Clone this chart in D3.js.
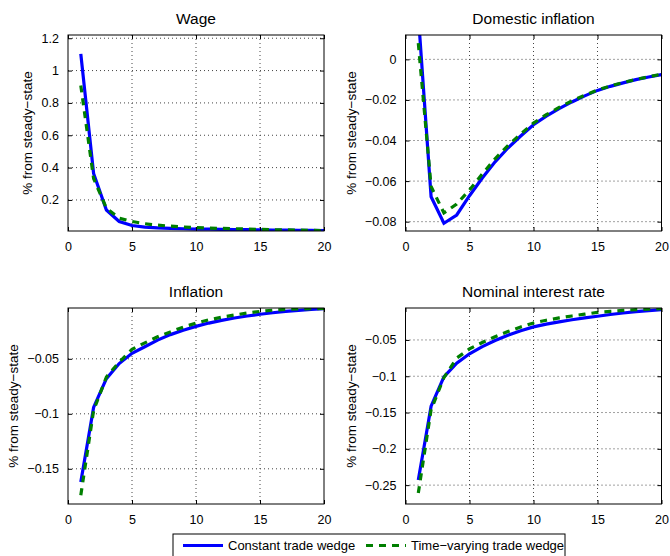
<!DOCTYPE html>
<html lang="en">
<head>
    <meta charset="UTF-8">
    <title>Impulse responses: constant vs time-varying trade wedge</title>
    <script src="https://d3js.org/d3.v7.min.js"></script>
    <style>
        body { margin: 0; background: #fff; }
        svg text { font-family: "Liberation Sans", Arial, Helvetica, sans-serif; fill: #000; font-weight: normal; }
        .grid line { stroke: #444; stroke-width: 1; stroke-dasharray: 1,3; }
        .tick text { font-size: 12.5px; }
        .title { font-size: 15.5px; text-anchor: middle; }
        .ylabel { font-size: 13.5px; text-anchor: middle; }
        .legend text { font-size: 13px; }
    </style>
</head>
<body>
    <svg id="chart" width="670" height="556"></svg>

    <script>
        // periods 1..20
        const periods = d3.range(1, 21);
        const xTicks = [0, 5, 10, 15, 20];

        const seriesNames = ["Constant trade wedge", "Time\u2212varying trade wedge"];

        const wageConst = [1.103, 0.364, 0.138, 0.067, 0.042, 0.032, 0.027, 0.024, 0.022, 0.020,
                           0.019, 0.018, 0.017, 0.016, 0.015, 0.014, 0.013, 0.012, 0.0115, 0.011];
        const wageVary  = [0.908, 0.333, 0.149, 0.087, 0.067, 0.053, 0.044, 0.038, 0.033, 0.029,
                           0.026, 0.024, 0.022, 0.020, 0.018, 0.016, 0.015, 0.013, 0.012, 0.011];

        const domConst = [0.022, -0.0677, -0.0808, -0.0767, -0.0672, -0.0585, -0.0505, -0.0437, -0.0378, -0.0322,
                          -0.0280, -0.0243, -0.0210, -0.0180, -0.0153, -0.0133, -0.0116, -0.0100, -0.0087, -0.0075];
        const domVary  = [0.008, -0.0627, -0.0757, -0.0713, -0.0644, -0.0565, -0.0490, -0.0425, -0.0368, -0.0314,
                          -0.0273, -0.0237, -0.0205, -0.0177, -0.0151, -0.0131, -0.0114, -0.0099, -0.0086, -0.0073];

        const inflConst = [-0.162, -0.0942, -0.068, -0.0543, -0.045, -0.039, -0.033, -0.028, -0.024, -0.0205,
                           -0.0175, -0.015, -0.0129, -0.0111, -0.0095, -0.0081, -0.0069, -0.0059, -0.0051, -0.0045];
        const inflVary  = [-0.174, -0.097, -0.0665, -0.053, -0.0414, -0.0355, -0.030, -0.0255, -0.0212, -0.0175,
                           -0.0146, -0.0122, -0.0102, -0.0084, -0.0069, -0.0058, -0.0051, -0.0047, -0.0044, -0.0042];

        const rateConst = [-0.243, -0.1413, -0.101, -0.082, -0.069, -0.0592, -0.0508, -0.0436, -0.0374, -0.032,
                           -0.0283, -0.0251, -0.0222, -0.0196, -0.0174, -0.0150, -0.0129, -0.0111, -0.0096, -0.0083];
        const rateVary  = [-0.261, -0.146, -0.102, -0.075, -0.0624, -0.0535, -0.0455, -0.0385, -0.0322, -0.0266,
                           -0.0229, -0.0197, -0.0170, -0.0145, -0.0120, -0.0106, -0.0094, -0.0083, -0.0076, -0.0070];

        const panels = [
            { title: "Wage", a: wageConst, b: wageVary, yDomain: [0.008, 1.22],
              yTicks: [0.2, 0.4, 0.6, 0.8, 1, 1.2], left: 68, top: 35 },
            { title: "Domestic inflation", a: domConst, b: domVary, yDomain: [-0.0846, 0.012],
              yTicks: [-0.08, -0.06, -0.04, -0.02, 0], left: 405.5, top: 35 },
            { title: "Inflation", a: inflConst, b: inflVary, yDomain: [-0.182, -0.0038],
              yTicks: [-0.15, -0.1, -0.05], left: 68, top: 308 },
            { title: "Nominal interest rate", a: rateConst, b: rateVary, yDomain: [-0.276, -0.006],
              yTicks: [-0.25, -0.2, -0.15, -0.1, -0.05], left: 405.5, top: 308 }
        ];

        const W = 256, H = 196;
        const BLUE = "#0000ff", GREEN = "#007f00";
        const fmt = d3.format("~g");

        const svg = d3.select("#chart");

        panels.forEach((p, i) => {
            const g = svg.append("g").attr("transform", `translate(${p.left},${p.top})`);
            const x = d3.scaleLinear().domain([0, 20]).range([0, W]);
            const y = d3.scaleLinear().domain(p.yDomain).range([H, 0]);

            // dotted grid
            const grid = g.append("g").attr("class", "grid");
            grid.selectAll(".gx").data(xTicks.slice(1, -1)).join("line")
                .attr("x1", d => x(d)).attr("x2", d => x(d)).attr("y1", 0).attr("y2", H);
            grid.selectAll(".gy").data(p.yTicks).join("line")
                .attr("x1", 0).attr("x2", W).attr("y1", d => y(d)).attr("y2", d => y(d));

            // series, clipped to the plot box
            g.append("clipPath").attr("id", "clip" + i)
                .append("rect").attr("width", W).attr("height", H);
            const line = d3.line().x((d, k) => x(periods[k])).y(d => y(d));
            const plot = g.append("g").attr("clip-path", `url(#clip${i})`);
            plot.append("path").datum(p.a).attr("d", line)
                .attr("fill", "none").attr("stroke", BLUE).attr("stroke-width", 3.2);
            plot.append("path").datum(p.b).attr("d", line)
                .attr("fill", "none").attr("stroke", GREEN).attr("stroke-width", 3.2)
                .attr("stroke-dasharray", "7,6");

            // axes, inward ticks like matlab
            const xAxis = g.append("g").attr("transform", `translate(0,${H})`)
                .call(d3.axisBottom(x).tickValues(xTicks).tickFormat(fmt).tickSizeInner(-4).tickSizeOuter(0).tickPadding(8));
            const yAxis = g.append("g")
                .call(d3.axisLeft(y).tickValues(p.yTicks).tickFormat(fmt).tickSizeInner(-4).tickSizeOuter(0).tickPadding(9));
            g.append("g").attr("transform", `translate(${W},0)`)
                .call(d3.axisRight(y).tickValues(p.yTicks).tickFormat("").tickSizeInner(-4).tickSizeOuter(0));
            g.append("g")
                .call(d3.axisTop(x).tickValues(xTicks).tickFormat("").tickSizeInner(-4).tickSizeOuter(0));
            g.selectAll(".domain").remove();
            g.selectAll(".tick line").attr("stroke", "#000");
            g.selectAll(".tick text").attr("font-family", null);
            xAxis.selectAll(".tick text").attr("dy", "0.95em");

            g.append("rect").attr("width", W).attr("height", H)
                .attr("fill", "none").attr("stroke", "#000").attr("stroke-width", 1);

            g.append("text").attr("class", "title")
                .attr("x", W / 2).attr("y", -11.5).text(p.title);

            // ylabel sits left of the widest tick label
            let maxW = 0;
            yAxis.selectAll(".tick text").each(function() {
                maxW = Math.max(maxW, this.getBBox().width);
            });
            const lx = -9 - maxW - 14;
            g.append("text").attr("class", "ylabel")
                .attr("transform", `translate(${lx},${H / 2}) rotate(-90)`)
                .attr("dy", "0.35em")
                .text("% from steady\u2212state");
        });

        // legend
        const leg = svg.append("g").attr("class", "legend");
        leg.append("rect").attr("x", 173).attr("y", 534).attr("width", 392).attr("height", 26)
            .attr("fill", "#fff").attr("stroke", "#000").attr("stroke-width", 1);
        const items = [
            { name: seriesNames[0], color: BLUE, dash: null, x: 183 },
            { name: seriesNames[1], color: GREEN, dash: "7,6", x: 366 }
        ];
        items.forEach(it => {
            leg.append("line").attr("x1", it.x).attr("x2", it.x + 40).attr("y1", 545.5).attr("y2", 545.5)
                .attr("stroke", it.color).attr("stroke-width", 3.2).attr("stroke-dasharray", it.dash);
            leg.append("text").attr("x", it.x + 45).attr("y", 545.5).attr("dy", "0.35em").text(it.name);
        });
    </script>
</body>
</html>
